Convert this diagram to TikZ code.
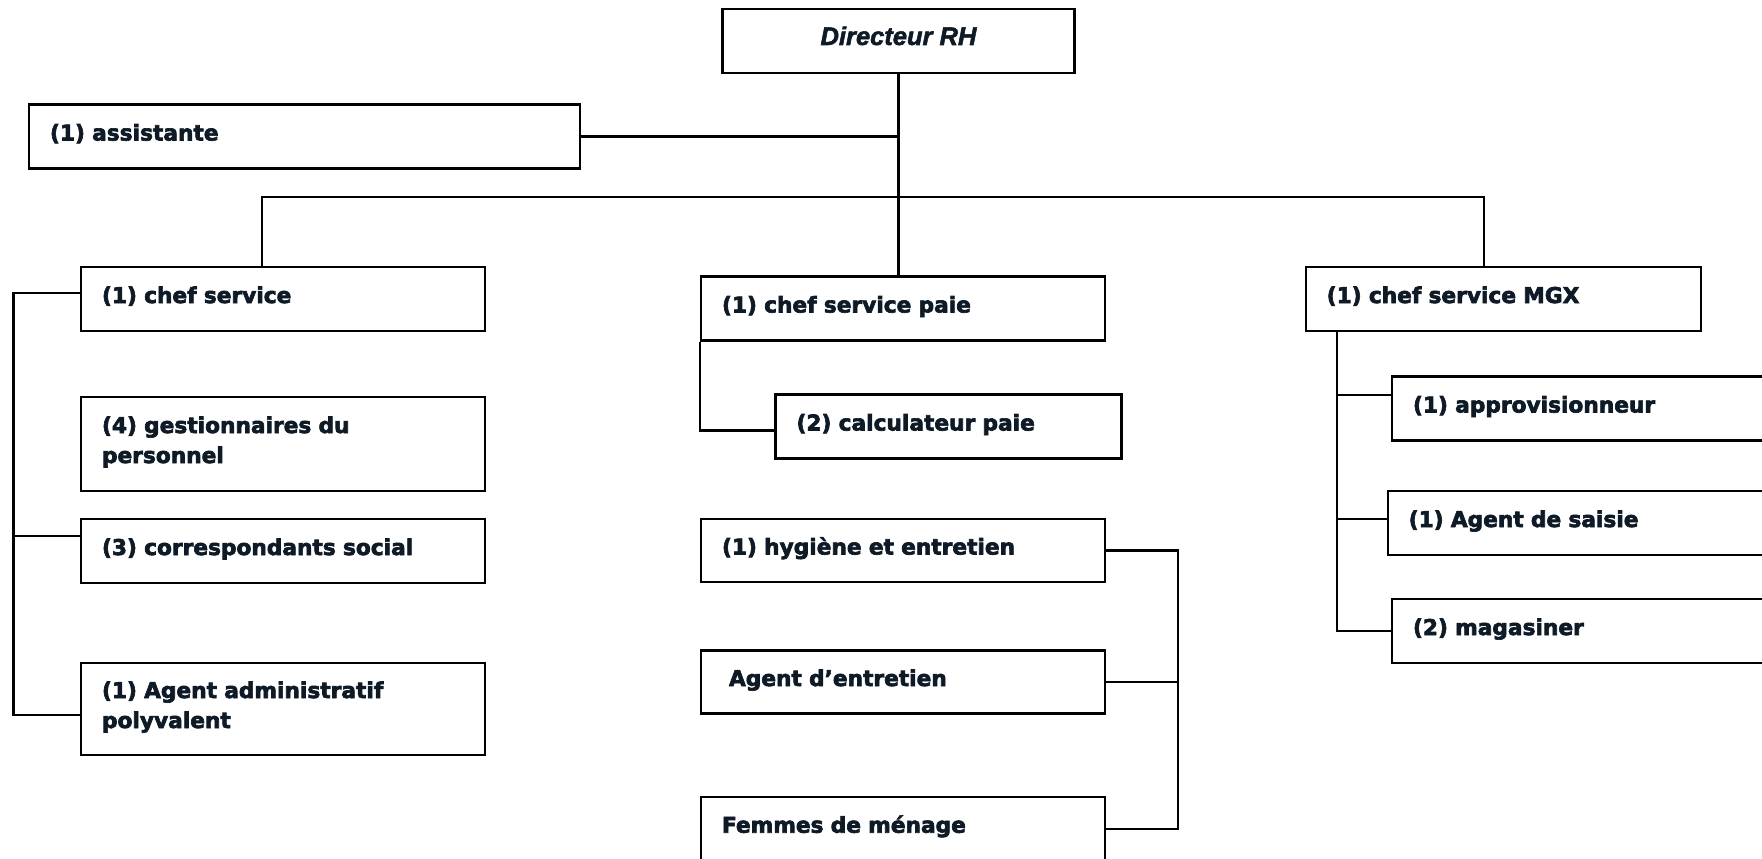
\documentclass[tikz,border=0pt]{standalone}
\usepackage{fontspec}
\setmainfont{DejaVu Sans}
\newfontfamily\boxfont{DejaVu Sans Bold}[FakeBold=3]
\newfontfamily\headfont{Liberation Sans Bold Italic}[FakeBold=2]
\usepackage{xcolor}
\usepackage{tikz}
\usetikzlibrary{positioning}
\definecolor{orgText}{HTML}{0E1A26}
\tikzset{org-line/.style={line width=2.1pt}}
\tikzset{org-box/.style={
    draw,
    line width=2.2pt,
    inner xsep=21pt,
    inner ysep=0pt,
    minimum height=64pt,
    text width=#1,
    align=left,
    text height=16pt,
    text depth=8pt,
    text=orgText,
    font=\boxfont\fontsize{21.7}{30}\selectfont
}}
\tikzset{org-box2/.style={org-box=#1, minimum height=94pt, text depth=38pt}}
\tikzset{org-head/.style={
    draw,
    line width=2.2pt,
    inner sep=0pt,
    minimum width=352pt,
    minimum height=64pt,
    text height=16pt,
    text depth=8pt,
    text=orgText,
    font=\headfont\fontsize{25.5}{30}\selectfont
}}

\begin{document}
\begin{tikzpicture}[x=1pt, y=-1pt]
    \path[use as bounding box, clip] (0,0) rectangle (1762,859);

    % top
    \node[org-head] (dir) at (898.5, 41) {Directeur RH};
    \node[org-box=509pt] (assist) at (304.5, 136.5) {(1) assistante};

    % left column
    \node[org-box=362pt] (chef) at (283, 299) {(1) chef service};
    \node[org-box2=362pt] (gest) at (283, 444) {(4) gestionnaires du\\personnel};
    \node[org-box=362pt] (corr) at (283, 551) {(3) correspondants social};
    \node[org-box2=362pt, minimum height=92pt] (agadm) at (283, 709) {(1) Agent administratif\\polyvalent};

    % middle column
    \node[org-box=362pt] (paie) at (903, 308.5) {(1) chef service paie};
    \node[org-box=304pt] (calc) at (948.5, 426.5) {(2) calculateur paie};
    \node[org-box=362pt, minimum height=63pt] (hyg) at (903, 550.5) {(1) hygiène et entretien};
    \node[org-box=348pt, inner xsep=28pt, minimum height=63pt] (ent) at (903, 682) {Agent d’entretien};
    \node[org-box=362pt] (fem) at (903, 828.7) {Femmes de ménage};

    % right column
    \node[org-box=353pt] (mgx) at (1503.2, 299) {(1) chef service MGX};
    \node[org-box=362pt] (appro) at (1594, 408.5) {(1) approvisionneur};
    \node[org-box=362pt] (saisie) at (1589.7, 523) {(1) Agent de saisie};
    \node[org-box=362pt] (magas) at (1594, 631) {(2) magasiner};

    % trunk and bus
    \coordinate (bus) at (897, 197);
    \draw[org-line] (dir.south) -- (dir.south |- paie.north);
    \draw[org-line] (assist.east) -- (assist.east -| dir.south);
    \draw[org-line] ([xshift=-21pt]chef.north) |- (bus) -| ([xshift=-19pt]mgx.north);

    % left bracket
    \coordinate (lspine) at (13.5, 0);
    \coordinate (chefTap) at ([yshift=6pt]chef.west);
    \coordinate (corrTap) at ([yshift=15pt]corr.west);
    \coordinate (agadmTap) at ([yshift=-6pt]agadm.west);
    \draw[org-line] (chefTap) -| (lspine |- agadmTap) -- (agadmTap);
    \draw[org-line] (corrTap) -- (corrTap -| lspine);

    % paie
    \draw[org-line] (paie.south west) |- ([yshift=-4pt]calc.west);

    % hygiene bracket
    \coordinate (rspine) at (1177.6, 0);
    \draw[org-line] (hyg.east) -| (rspine |- fem.east) -- (fem.east);
    \draw[org-line] (ent.east) -- (ent.east -| rspine);

    % mgx bracket
    \coordinate (mgxTop) at ([xshift=32.6pt]mgx.south west);
    \coordinate (approTap) at ([yshift=13.5pt]appro.west);
    \coordinate (saisieTap) at ([yshift=4pt]saisie.west);
    \draw[org-line] (mgxTop) |- (magas.west);
    \draw[org-line] (approTap) -- (approTap -| mgxTop);
    \draw[org-line] (saisieTap) -- (saisieTap -| mgxTop);
\end{tikzpicture}
\end{document}
